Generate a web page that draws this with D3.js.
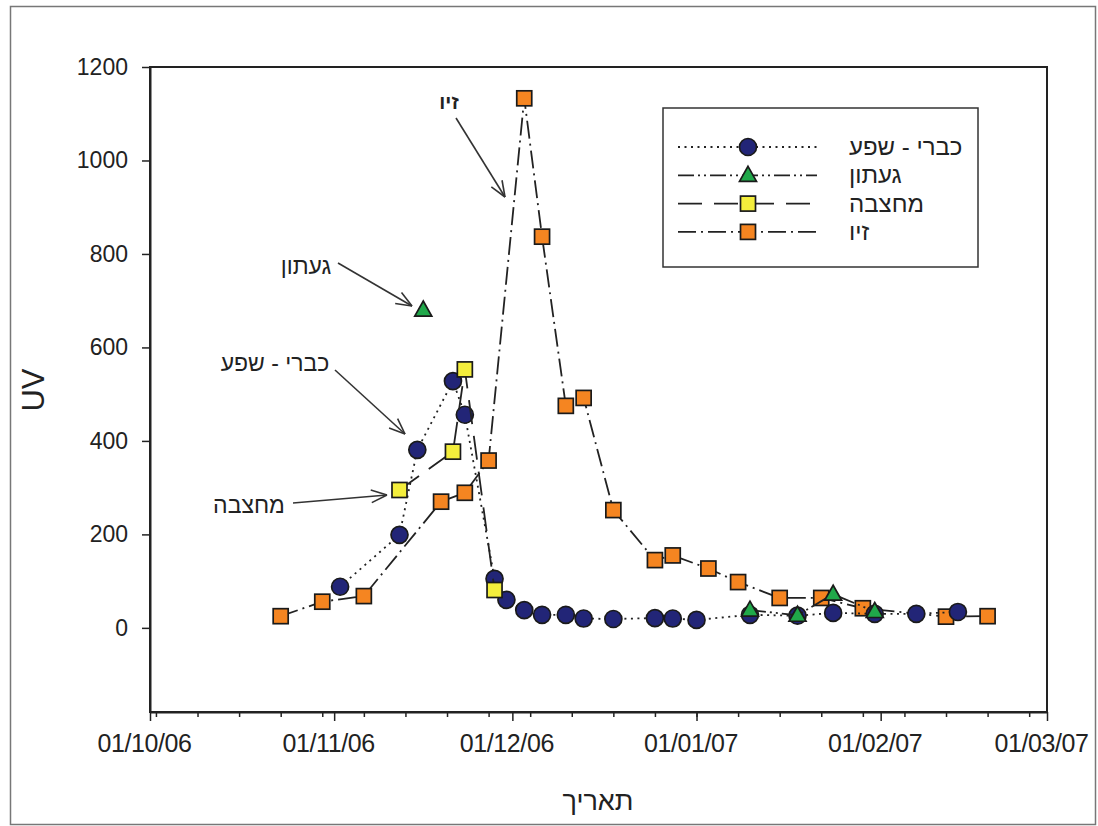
<!DOCTYPE html>
<html>
<head>
<meta charset="utf-8">
<script src="https://cdn.jsdelivr.net/npm/d3@7"></script>
<style>
  body { margin: 0; background: #fff; }
  svg { display: block; font-family: "Liberation Sans", Arial, sans-serif; }
</style>
</head>
<body>
<svg id="chart" width="1098" height="826"></svg>
<script>
// series: [date, UV]
var kabri = [
  ["2006-11-02", 88], ["2006-11-12", 199], ["2006-11-15", 381], ["2006-11-21", 528],
  ["2006-11-23", 456], ["2006-11-28", 105], ["2006-11-30", 60], ["2006-12-03", 38],
  ["2006-12-06", 28], ["2006-12-10", 28], ["2006-12-13", 20], ["2006-12-18", 19],
  ["2006-12-25", 21], ["2006-12-28", 20], ["2007-01-01", 17], ["2007-01-10", 28],
  ["2007-01-18", 26], ["2007-01-24", 32], ["2007-01-31", 30], ["2007-02-07", 30],
  ["2007-02-14", 34]
];
var gaaton = [
  ["2006-11-16", 680], ["2007-01-01", null], ["2007-01-10", 38], ["2007-01-18", 27],
  ["2007-01-24", 72], ["2007-01-31", 35]
];
var mahtzeva = [
  ["2006-11-12", 295], ["2006-11-21", 377], ["2006-11-23", 553], ["2006-11-28", 81]
];
var ziv = [
  ["2006-10-23", 25], ["2006-10-30", 56], ["2006-11-06", 68], ["2006-11-19", 270],
  ["2006-11-23", 289], ["2006-11-27", 358], ["2006-12-03", 1133], ["2006-12-06", 837],
  ["2006-12-10", 475], ["2006-12-13", 492], ["2006-12-18", 252], ["2006-12-25", 145],
  ["2006-12-28", 155], ["2007-01-03", 127], ["2007-01-08", 98], ["2007-01-15", 64],
  ["2007-01-22", 64], ["2007-01-29", 42], ["2007-02-12", 24], ["2007-02-19", 25]
];
var seriesNames = ["כברי - שפע", "געתון", "מחצבה", "זיו"];
var yTicks = [0, 200, 400, 600, 800, 1000, 1200];

var svg = d3.select("#chart");
var parse = d3.utcParse("%Y-%m-%d");

var x = d3.scaleUtc().domain([Date.UTC(2006, 9, 1), Date.UTC(2007, 2, 1)]).range([150, 1047]);
var y = d3.scaleLinear().domain([-180, 1200]).range([712, 67]);

// outer picture border
svg.append("rect").attr("x", 10.5).attr("y", 6.5).attr("width", 1085).attr("height", 818)
  .attr("fill", "none").attr("stroke", "#777").attr("stroke-width", 1.5);

// frame
svg.append("rect").attr("x", 150).attr("y", 67).attr("width", 897).attr("height", 645)
  .attr("fill", "none").attr("stroke", "#222").attr("stroke-width", 2);

// y axis
var yAxis = svg.append("g").attr("transform", "translate(150,0)")
  .call(d3.axisLeft(y).tickValues(yTicks).tickSize(8).tickSizeOuter(0).tickPadding(14)
    .tickFormat(d3.format("d")));
yAxis.select(".domain").attr("stroke", "#222").attr("stroke-width", 2);
yAxis.selectAll(".tick line").attr("stroke", "#222").attr("stroke-width", 1.5);
yAxis.selectAll("text").attr("font-size", 23).attr("fill", "#222");

// x axis: minor weekly (Mondays) + major monthly
var xMinor = svg.append("g").attr("transform", "translate(0,712)")
  .call(d3.axisBottom(x).ticks(d3.utcMonday).tickSize(5).tickFormat(""));
xMinor.select(".domain").remove();
xMinor.selectAll(".tick line").attr("stroke", "#222").attr("stroke-width", 1.5);

var xAxis = svg.append("g").attr("transform", "translate(0,712)")
  .call(d3.axisBottom(x).ticks(d3.utcMonth).tickSize(9).tickSizeOuter(0).tickPadding(13)
    .tickFormat(d3.utcFormat("%d/%m/%y")));
xAxis.select(".domain").attr("stroke", "#222").attr("stroke-width", 2);
xAxis.selectAll(".tick line").attr("stroke", "#222").attr("stroke-width", 1.5);
xAxis.selectAll("text").attr("font-size", 25).attr("fill", "#222").attr("dx", -6)
  .attr("letter-spacing", -0.4);

// axis titles
svg.append("text").attr("transform", "translate(44,390) rotate(-90)")
  .attr("text-anchor", "middle").attr("font-size", 31).attr("fill", "#222").text("UV");
svg.append("text").attr("x", 598).attr("y", 810)
  .attr("text-anchor", "middle").attr("font-size", 27).attr("fill", "#222").text("תאריך");

var styles = [
  { data: kabri, fill: "#222577", shape: "circle", dash: "2,4.5" },
  { data: gaaton, fill: "#20a84a", shape: "triangle", dash: "16,4,2,4,2,4" },
  { data: mahtzeva, fill: "#f4ee3c", shape: "square", dash: "24,12" },
  { data: ziv, fill: "#f58521", shape: "square", dash: "18,5,2,5" }
];

function marker(g, shape, fill) {
  var p;
  if (shape === "circle") {
    p = g.append("circle").attr("r", 8.5);
  } else if (shape === "square") {
    p = g.append("rect").attr("x", -7.5).attr("y", -7.5).attr("width", 15).attr("height", 15);
  } else {
    p = g.append("path").attr("d", "M0,-9L8.5,6L-8.5,6Z");
  }
  p.attr("fill", fill).attr("stroke", "#1a1a1a").attr("stroke-width", 1.7);
}

var line = d3.line()
  .defined(function(d) { return d[1] !== null; })
  .x(function(d) { return x(parse(d[0])); })
  .y(function(d) { return y(d[1]); });

// draw order: ziv, kabri, mahtzeva, gaaton
[3, 0, 2, 1].forEach(function(i) {
  var s = styles[i];
  svg.append("path").attr("d", line(s.data)).attr("fill", "none")
    .attr("stroke", "#222").attr("stroke-width", 1.8).attr("stroke-dasharray", s.dash);
  s.data.filter(function(d) { return d[1] !== null; }).forEach(function(d) {
    var g = svg.append("g").attr("transform", "translate(" + x(parse(d[0])) + "," + y(d[1]) + ")");
    marker(g, s.shape, s.fill);
  });
});

// legend
var lg = svg.append("g");
lg.append("rect").attr("x", 663).attr("y", 108).attr("width", 315).attr("height", 159)
  .attr("fill", "#fff").attr("stroke", "#333").attr("stroke-width", 1.5);
styles.forEach(function(s, i) {
  var ry = 147 + i * 28.3;
  lg.append("line").attr("x1", 678).attr("x2", 817).attr("y1", ry).attr("y2", ry)
    .attr("stroke", "#222").attr("stroke-width", 1.8).attr("stroke-dasharray", s.dash);
  var g = lg.append("g").attr("transform", "translate(748," + ry + ")");
  marker(g, s.shape, s.fill);
  lg.append("text").attr("x", 849).attr("y", ry + 8).attr("font-size", 24)
    .attr("fill", "#222").text(seriesNames[i]);
});

// annotations with open arrowheads
var notes = [
  { text: "זיו", tx: 449, ty: 109, bold: true, x1: 456, y1: 118, x2: 505, y2: 197 },
  { text: "געתון", tx: 306, ty: 274, bold: false, x1: 338, y1: 263, x2: 412, y2: 306 },
  { text: "כברי - שפע", tx: 275, ty: 371, bold: false, x1: 335, y1: 370, x2: 405, y2: 434 },
  { text: "מחצבה", tx: 249, ty: 513, bold: false, x1: 293, y1: 503, x2: 387, y2: 495 }
];
notes.forEach(function(n) {
  svg.append("text").attr("x", n.tx).attr("y", n.ty).attr("text-anchor", "middle")
    .attr("font-size", n.bold ? 20 : 23).attr("font-weight", n.bold ? "bold" : "normal")
    .attr("fill", "#222").text(n.text);
  svg.append("line").attr("x1", n.x1).attr("y1", n.y1).attr("x2", n.x2).attr("y2", n.y2)
    .attr("stroke", "#333").attr("stroke-width", 1.6);
  var a = Math.atan2(n.y2 - n.y1, n.x2 - n.x1);
  [-0.38, 0.38].forEach(function(da) {
    svg.append("line").attr("x1", n.x2).attr("y1", n.y2)
      .attr("x2", n.x2 - 17 * Math.cos(a + da)).attr("y2", n.y2 - 17 * Math.sin(a + da))
      .attr("stroke", "#333").attr("stroke-width", 1.6);
  });
});
</script>
</body>
</html>
